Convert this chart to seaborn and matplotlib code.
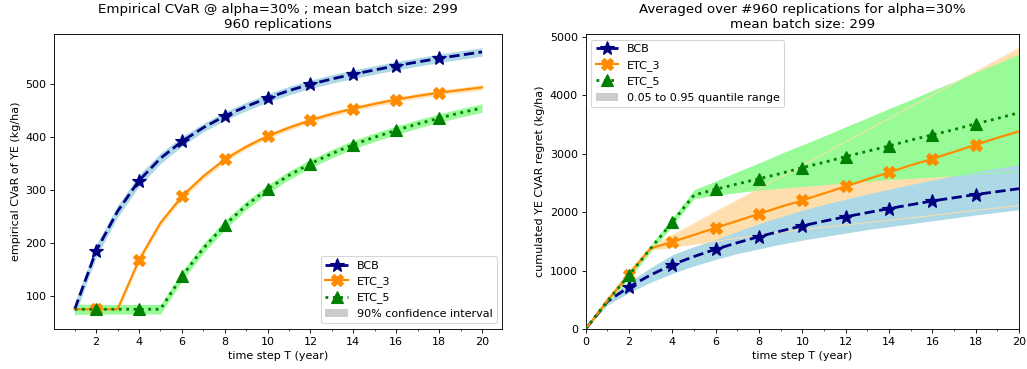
import numpy as np
import pandas as pd
import matplotlib
matplotlib.use("Agg")
import matplotlib.pyplot as plt
from matplotlib.patches import Patch
import seaborn as sns

# ---------------- data: left panel (T = 1..20) ----------------
t_left = list(range(1, 21))
bcb_cvar = [75, 185, 260, 318, 360, 392, 418, 440, 458, 474, 488, 500, 510, 519, 527, 535, 542, 549, 555, 561]
etc3_cvar = [75, 75, 75, 168, 238, 288, 326, 358, 382, 402, 418, 432, 444, 454, 463, 471, 478, 484, 489, 494]
etc5_cvar = [75, 75, 75, 75, 75, 137, 190, 234, 271, 302, 328, 350, 369, 386, 400, 413, 425, 436, 446, 455]
bcb_ci_half = [12, 12, 11, 11, 10, 9, 8, 8, 8, 8, 8, 8, 8, 8, 8, 8, 8, 8, 8, 8]
etc3_ci_half = [9, 8, 7, 6, 6, 6, 6, 5, 5, 5, 5, 5, 5, 5, 5, 5, 5, 5, 5, 5]
etc5_ci_half = [10, 9, 9, 9, 9, 9, 9, 9, 8, 8, 8, 8, 8, 8, 8, 8, 8, 8, 8, 8]

# ---------------- data: right panel (T = 0..20) ----------------
t_right = list(range(0, 21))
bcb_regret = [0, 470, 720, 925, 1100, 1240, 1365, 1475, 1580, 1675, 1765, 1845, 1920, 1990, 2060, 2125, 2190, 2245, 2300, 2350, 2400]
bcb_q05 = [0, 410, 620, 800, 950, 1080, 1190, 1290, 1370, 1450, 1520, 1580, 1640, 1700, 1750, 1800, 1850, 1900, 1950, 1995, 2040]
bcb_q95 = [0, 530, 800, 1050, 1270, 1410, 1530, 1670, 1800, 1920, 2030, 2130, 2220, 2310, 2390, 2470, 2550, 2620, 2690, 2750, 2810]

etc3_regret = [0, 480, 930, 1380, 1490, 1610, 1730, 1850, 1970, 2090, 2200, 2320, 2440, 2560, 2680, 2800, 2910, 3030, 3150, 3270, 3380]
etc3_q05 = [0, 440, 870, 1350, 1400, 1450, 1500, 1555, 1610, 1655, 1700, 1740, 1780, 1820, 1860, 1900, 1940, 1985, 2030, 2070, 2110]
etc3_q95 = [0, 520, 990, 1410, 1600, 1800, 2000, 2200, 2400, 2600, 2800, 3000, 3200, 3400, 3600, 3800, 4000, 4200, 4400, 4600, 4800]

etc5_regret = [0, 480, 920, 1380, 1830, 2290, 2390, 2480, 2570, 2660, 2760, 2850, 2950, 3040, 3130, 3230, 3320, 3410, 3510, 3600, 3700]
etc5_q05 = [0, 430, 860, 1320, 1770, 2230, 2290, 2335, 2380, 2410, 2440, 2470, 2500, 2530, 2560, 2580, 2600, 2625, 2650, 2670, 2690]
etc5_q95 = [0, 530, 980, 1440, 1900, 2380, 2530, 2690, 2840, 3000, 3150, 3300, 3460, 3610, 3770, 3920, 4080, 4230, 4390, 4540, 4700]

methods = ["BCB", "ETC_3", "ETC_5"]
line_colors = {"BCB": "navy", "ETC_3": "darkorange", "ETC_5": "green"}
band_colors = {"BCB": "lightblue", "ETC_3": "navajowhite", "ETC_5": "palegreen"}
styles = {"BCB": "--", "ETC_3": "-", "ETC_5": ":"}
markers = {"BCB": "*", "ETC_3": "X", "ETC_5": "^"}
msizes = {"BCB": 13, "ETC_3": 11, "ETC_5": 11}
lws = {"BCB": 2.5, "ETC_3": 2.0, "ETC_5": 2.5}

left_mean = {"BCB": bcb_cvar, "ETC_3": etc3_cvar, "ETC_5": etc5_cvar}
left_half = {"BCB": bcb_ci_half, "ETC_3": etc3_ci_half, "ETC_5": etc5_ci_half}
right_mean = {"BCB": bcb_regret, "ETC_3": etc3_regret, "ETC_5": etc5_regret}
right_lo = {"BCB": bcb_q05, "ETC_3": etc3_q05, "ETC_5": etc5_q05}
right_hi = {"BCB": bcb_q95, "ETC_3": etc3_q95, "ETC_5": etc5_q95}

plt.rcParams["font.family"] = ["DejaVu Sans"]
fig = plt.figure(figsize=(1027 / 80, 369 / 80), dpi=80)
ax1 = fig.add_axes([0.0529, 0.1084, 0.4362, 0.7986])
ax2 = fig.add_axes([0.5703, 0.1084, 0.4219, 0.7986])

# ---------------- left panel ----------------
tl = np.array(t_left)
for m in ["ETC_3", "ETC_5", "BCB"]:
    mean = np.array(left_mean[m])
    half = np.array(left_half[m])
    ax1.fill_between(tl, mean - half, mean + half, color=band_colors[m], lw=0,
                     alpha=0.8 if m == "ETC_3" else 1.0, zorder=1)
for m in methods:
    df = pd.DataFrame({"T": t_left, "v": left_mean[m]})
    sns.lineplot(data=df, x="T", y="v", ax=ax1, color=line_colors[m], linestyle=styles[m],
                 lw=lws[m], marker=markers[m], markersize=msizes[m],
                 markeredgecolor=line_colors[m], markeredgewidth=1,
                 markevery=list(range(1, 18, 2)), label=m, zorder=3)
h, l = ax1.get_legend_handles_labels()
h = h[:3]
l = l[:3]
h.append(Patch(facecolor="#cccccc", edgecolor="none"))
l.append("90% confidence interval")
ax1.legend(h, l, loc="lower right", fontsize=10)
ax1.set_xticks(range(2, 21, 2))
ax1.set_xticks(range(1, 21, 2), minor=True)
ax1.set_xlabel("time step T (year)")
ax1.set_ylabel("empirical CVaR of YE (kg/ha)")
ax1.set_title("Empirical CVaR @ alpha=30% ; mean batch size: 299\n960 replications", fontsize=12)

# ---------------- right panel ----------------
tr = np.array(t_right)
for m in ["ETC_3", "ETC_5", "BCB"]:
    ax2.fill_between(tr, right_lo[m], right_hi[m], color=band_colors[m], lw=0, zorder=1)
# faint edges of the lower-drawn bands showing through
ax2.plot(tr, etc3_q95, color="navajowhite", lw=0.9, zorder=1.5)
ax2.plot(tr, etc3_q05, color="navajowhite", lw=0.9, zorder=1.5)
ax2.plot(tr, etc5_q05, color="palegreen", lw=0.9, zorder=1.5)
for m in methods:
    df = pd.DataFrame({"T": t_right, "v": right_mean[m]})
    sns.lineplot(data=df, x="T", y="v", ax=ax2, color=line_colors[m], linestyle=styles[m],
                 lw=lws[m], marker=markers[m], markersize=msizes[m],
                 markeredgecolor=line_colors[m], markeredgewidth=1,
                 markevery=list(range(2, 19, 2)), label=m, zorder=3)
h, l = ax2.get_legend_handles_labels()
h = h[:3]
l = l[:3]
h.append(Patch(facecolor="#cccccc", edgecolor="none"))
l.append("0.05 to 0.95 quantile range")
ax2.legend(h, l, loc="upper left", fontsize=10)
ax2.set_xlim(0, 20)
ax2.set_ylim(bottom=0)
ax2.set_xticks(range(0, 21, 2))
ax2.set_xticks(range(1, 21, 2), minor=True)
ax2.set_yticks(range(0, 5001, 1000))
ax2.set_xlabel("time step T (year)")
ax2.set_ylabel("cumulated YE CVAR regret (kg/ha)")
ax2.set_title("Averaged over #960 replications for alpha=30%\nmean batch size: 299", fontsize=12)

fig.savefig("out.png", dpi=80)
